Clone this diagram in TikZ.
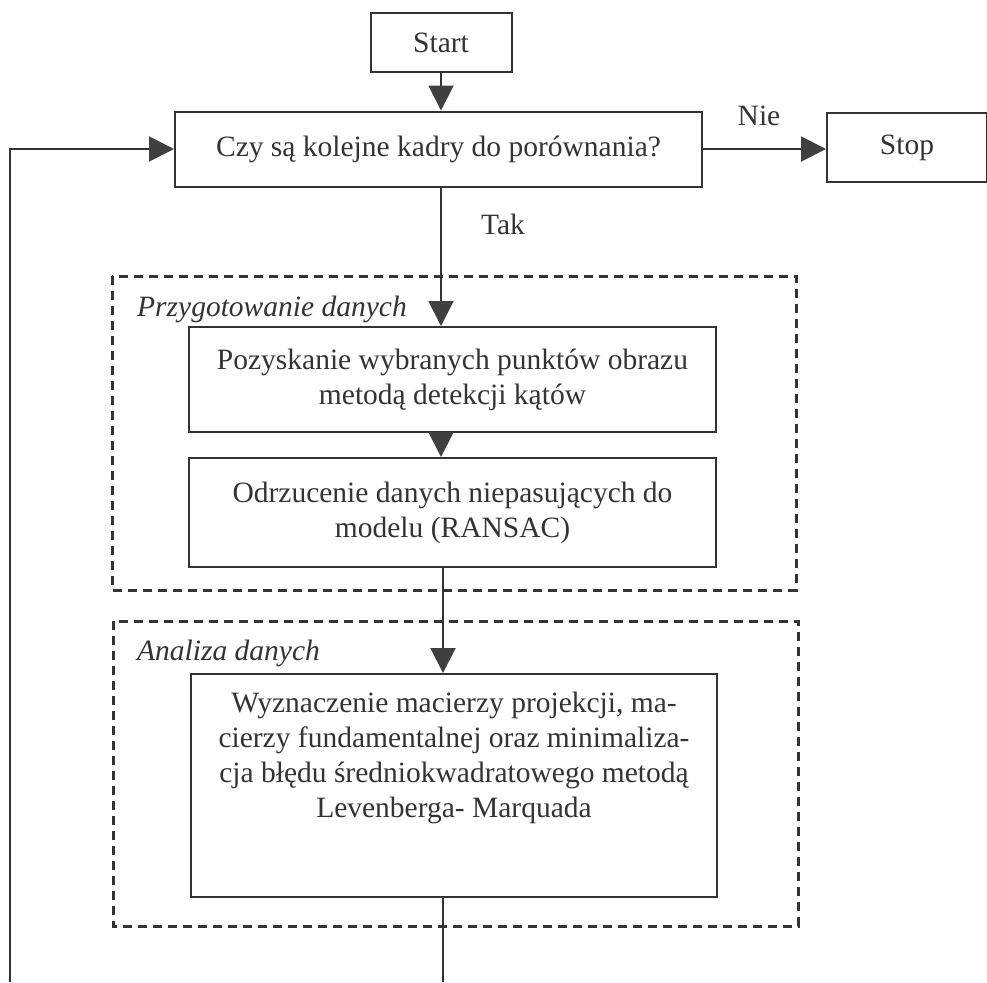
\documentclass[tikz,border=0pt]{standalone}
\usepackage{fontspec}
\setmainfont{Liberation Serif}
\usetikzlibrary{arrows.meta}
\definecolor{ink}{HTML}{333333}
\definecolor{tip}{HTML}{404040}
\tikzset{
  every node/.style={font=\fontsize{29.5}{35}\selectfont, text=ink},
  box/.style={draw=ink, line width=2pt, rectangle, inner sep=0pt, align=center},
  grp/.style={draw=ink, line width=3pt, dash pattern=on 9pt off 6pt},
  flow/.style={draw=ink, line width=2pt, -{Triangle[length=25pt,width=25pt,color=tip]}},
  plain/.style={draw=ink, line width=2pt},
  lbl/.style={inner sep=0pt, anchor=west, font=\fontsize{29.5}{35}\selectfont\itshape}
}
\begin{document}
\begin{tikzpicture}[x=1pt,y=-1pt]
\useasboundingbox (0,0) rectangle (987,982);
% groups
\draw[grp] (112,276) rectangle (796,590);
\draw[grp] (113,621) rectangle (798,926);
\node[lbl] (lab1) at (137,309) {Przygotowanie danych};
\node[lbl] (lab2) at (137,653) {Analiza danych};
% nodes
\node[box, minimum width=141pt, minimum height=59pt] (start) at (441,42.5) {Start};
\node[box, minimum width=527pt, minimum height=75pt] (q) at (438.5,149) {Czy są kolejne kadry do porównania?};
\node[box, minimum width=160pt, minimum height=69pt] (stop) at (907,147.5) {Stop};
\node[box, minimum width=527pt, minimum height=105pt] (b1) at (452.5,379.5) {Pozyskanie wybranych punktów obrazu\\metodą detekcji kątów};
\node[box, minimum width=527pt, minimum height=109pt] (b2) at (452.5,512.5) {Odrzucenie danych niepasujących do\\modelu (RANSAC)};
\node[box, minimum width=526pt, minimum height=223pt, anchor=north, text depth=0pt] (b3) at (454,673) {};
\node[inner sep=0pt, align=center, anchor=north] (b3t) at (454,692) {Wyznaczenie macierzy projekcji, ma-\\cierzy fundamentalnej oraz minimaliza-\\cja błędu średniokwadratowego metodą\\Levenberga- Marquada};
\node[inner sep=0pt] (nie) at (759,116) {Nie};
\node[inner sep=0pt] (tak) at (503,224) {Tak};
% connectors
\coordinate (loopB) at (10,982);
\coordinate (endB) at (443,982);
\draw[flow] (start.south) -- (q.north -| start.south);
\draw[flow] (q.east) -- (stop.west |- q.east);
\draw[flow] (q.south -| start.south) -- (b1.north -| start.south);
\draw[flow] (b1.south -| start.south) -- (b2.north -| start.south);
\draw[flow] (b2.south -| endB) -- (b3.north -| endB);
\draw[flow] (loopB) -- (loopB |- q.west) -- (q.west);
\draw[plain] (b3.south -| endB) -- (endB);
\end{tikzpicture}
\end{document}
